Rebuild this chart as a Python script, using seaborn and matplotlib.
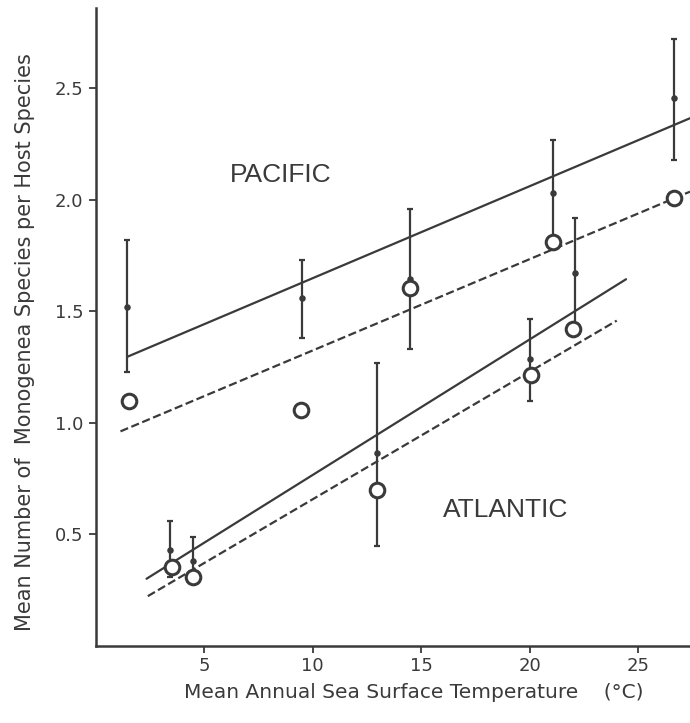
import numpy as np
import pandas as pd
import matplotlib
matplotlib.use("Agg")
import matplotlib.pyplot as plt
import seaborn as sns

# ---- data ----
pac_x = [1.45, 9.5, 14.5, 21.1, 26.65]
pac_mean = [1.52, 1.56, 1.645, 2.03, 2.455]
pac_lo = [1.23, 1.38, 1.33, 1.79, 2.18]
pac_hi = [1.82, 1.73, 1.96, 2.27, 2.72]
pac_open_x = [1.5, 9.47, 14.5, 21.1, 26.65]
pac_open_y = [1.10, 1.06, 1.605, 1.81, 2.01]

atl_x = [3.43, 4.48, 12.96, 20.02, 22.1]
atl_mean = [0.43, 0.38, 0.867, 1.288, 1.67]
atl_lo = [0.31, 0.33, 0.45, 1.10, 1.42]
atl_hi = [0.56, 0.487, 1.27, 1.466, 1.92]
atl_open_x = [3.5, 4.48, 12.96, 20.07, 22.0]
atl_open_y = [0.352, 0.308, 0.70, 1.216, 1.42]

# fitted lines: (x_start, x_end, intercept, slope)
fit_names = ["pac_solid", "pac_dashed", "atl_solid", "atl_dashed"]
fit_x0 = [1.44, 1.13, 2.33, 2.39]
fit_x1 = [27.4, 27.4, 24.45, 24.02]
fit_b = [1.237, 0.916, 0.160, 0.087]
fit_m = [0.0412, 0.0409, 0.0607, 0.0571]
fit_style = ["-", "--", "-", "--"]

xticks = [5, 10, 15, 20, 25]
yticks = [0.5, 1.0, 1.5, 2.0, 2.5]

sns.set_style("ticks")
plt.rcParams["font.family"] = ["DejaVu Sans"]

ink = "#3a3a3a"
fig = plt.figure(figsize=(6.9, 7.23), dpi=100)
ax = fig.add_axes([96 / 690, (723 - 646) / 723, 1 - 96 / 690, (646 - 8) / 723])

# fit lines
for x0, x1, b, m, ls in zip(fit_x0, fit_x1, fit_b, fit_m, fit_style):
    xs = np.array([x0, x1])
    df = pd.DataFrame({"x": xs, "y": b + m * xs})
    sns.lineplot(data=df, x="x", y="y", ax=ax, color=ink, lw=1.6,
                 linestyle=ls, dashes=(4, 2.2) if ls == "--" else None)

# error bars + filled means
for xs, mean, lo, hi in [(pac_x, pac_mean, pac_lo, pac_hi),
                         (atl_x, atl_mean, atl_lo, atl_hi)]:
    mean = np.array(mean)
    yerr = np.vstack([mean - np.array(lo), np.array(hi) - mean])
    ax.errorbar(xs, mean, yerr=yerr, fmt="none", ecolor=ink, elinewidth=1.6,
                capsize=2.5, capthick=1.6, zorder=3)
    sns.scatterplot(x=xs, y=mean, ax=ax, color=ink, s=22, edgecolor=ink,
                    linewidth=0, zorder=4)

# open circles
for xs, ys in [(pac_open_x, pac_open_y), (atl_open_x, atl_open_y)]:
    sns.scatterplot(x=xs, y=ys, ax=ax, marker="o", s=110, facecolor="white",
                    edgecolor=ink, linewidth=2.2, zorder=5)

ax.text(8.5, 2.11, "PACIFIC", fontsize=19, color=ink, ha="center", va="center",
        family=["Liberation Sans", "DejaVu Sans"])
ax.text(18.9, 0.61, "ATLANTIC", fontsize=19, color=ink, ha="center", va="center",
        family=["Liberation Sans", "DejaVu Sans"])

ax.set_xlim(0, 27.4)
ax.set_ylim(0, 2.86)
ax.set_xticks(xticks)
ax.set_xticklabels([str(t) for t in xticks])
ax.set_yticks(yticks)
ax.set_yticklabels([f"{t:.1f}" for t in yticks])
ax.tick_params(axis="both", direction="out", length=5, width=1.3, colors=ink,
               labelsize=13)
ax.tick_params(axis="x", pad=3)
ax.tick_params(axis="y", pad=4)
for s in ["top", "right"]:
    ax.spines[s].set_visible(False)
for s in ["left", "bottom"]:
    ax.spines[s].set_color(ink)
    ax.spines[s].set_linewidth(1.8)

ax.set_xlabel("Mean Annual Sea Surface Temperature    (°C)", fontsize=14.5,
              color=ink)
ax.set_ylabel("Mean Number of  Monogenea Species per Host Species", fontsize=15,
              color=ink)
ax.xaxis.set_label_coords(0.535, -0.058)
ax.yaxis.set_label_coords(-0.103, 0.476)

fig.savefig("out.png", dpi=100)
